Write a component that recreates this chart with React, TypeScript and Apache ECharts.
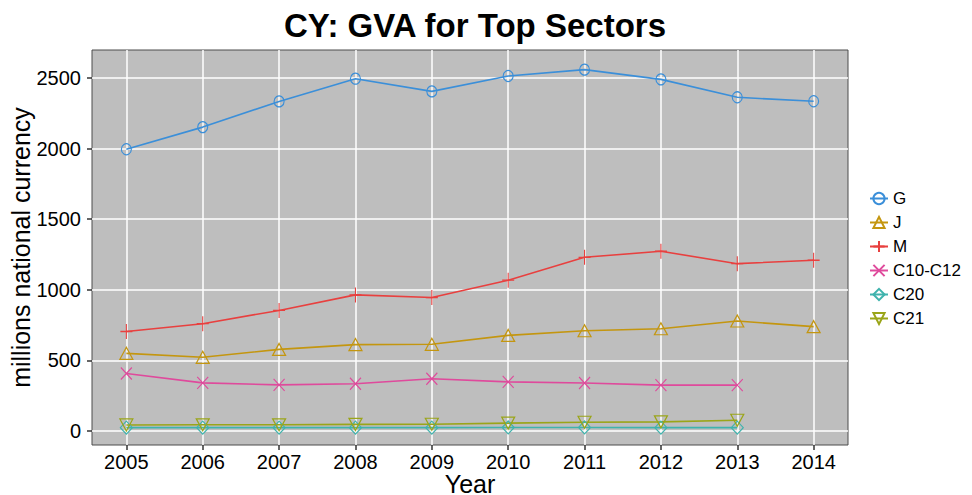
import React, { useEffect, useRef } from "react";
import * as echarts from "echarts";

const years = [2005, 2006, 2007, 2008, 2009, 2010, 2011, 2012, 2013, 2014];
const seriesNames = ["G", "J", "M", "C10-C12", "C20", "C21"];
const gValues = [1995, 2152, 2334, 2495, 2405, 2514, 2559, 2490, 2363, 2335];
const jValues = [550, 522, 578, 612, 614, 677, 710, 724, 779, 739];
const mValues = [705, 760, 854, 964, 945, 1068, 1230, 1273, 1185, 1209];
const c10Values = [407, 341, 327, 335, 370, 348, 340, 325, 325];
const c20Values = [24, 24, 24, 24, 24, 25, 25, 24, 24];
const c21Values = [43, 44, 44, 47, 48, 56, 62, 65, 76];
const yTicks = [0, 500, 1000, 1500, 2000, 2500];

const colors = ["#3b8fd9", "#c4960f", "#e8403f", "#df4a9c", "#3fb3ad", "#9aa518"];
const symbols = [
  "circle",
  "triangle",
  "path://M0,-1L0,1M-1,0L1,0",
  "path://M-1,-1L1,1M-1,1L1,-1",
  "diamond",
  "path://M-1,-1L1,-1L0,1Z",
];
const sizes: [number, number][] = [
  [10, 11],
  [13, 12],
  [12, 15],
  [11, 12],
  [12, 13],
  [13, 12],
];

export default function App() {
  const ref = useRef<HTMLDivElement>(null);
  useEffect(() => {
    if (!ref.current) return;
    const chart = echarts.init(ref.current, null, { renderer: "svg" });
    const allValues = [gValues, jValues, mValues, c10Values, c20Values, c21Values];
    const font = "'Liberation Sans', Arial, Helvetica, sans-serif";
    chart.setOption({
      animation: false,
      title: {
        text: "CY: GVA for Top Sectors",
        left: 470,
        top: 4,
        textAlign: "center",
        textStyle: { fontFamily: font, fontSize: 33, fontWeight: "bold", color: "#000" },
      },
      legend: {
        orient: "vertical",
        left: 864,
        top: 185,
        itemWidth: 18,
        itemHeight: 14,
        itemGap: 7,
        data: seriesNames,
        textStyle: { fontFamily: font, fontSize: 17, color: "#000" },
      },
      grid: {
        left: 92,
        top: 50,
        right: 124,
        bottom: 50,
        outerBoundsMode: "none",
        containLabel: false,
        show: true,
        backgroundColor: "#bebebe",
        borderColor: "#4d4d4d",
        borderWidth: 1,
      },
      xAxis: {
        type: "value",
        min: 2004.55,
        max: 2014.45,
        name: "Year",
        nameLocation: "middle",
        nameGap: 26,
        nameMoveOverlap: false,
        nameTextStyle: { fontFamily: font, fontSize: 25, color: "#000" },
        axisLine: { show: false, onZero: false },
        axisTick: { show: true, length: 5, customValues: years, lineStyle: { color: "#333", width: 1.5 } },
        axisLabel: {
          customValues: years,
          margin: 7,
          fontFamily: font,
          fontSize: 20,
          color: "#000",
          formatter: (v: number) => String(v),
        },
        splitLine: { show: true, lineStyle: { color: "#ffffff", width: 1.5 } },
      },
      yAxis: {
        type: "value",
        min: -99,
        max: 2698,
        name: "millions national currency",
        nameLocation: "middle",
        nameGap: 59,
        nameMoveOverlap: false,
        nameTextStyle: { fontFamily: font, fontSize: 25, color: "#000" },
        axisLine: { show: false, onZero: false },
        axisTick: { show: true, length: 5, customValues: yTicks, lineStyle: { color: "#333", width: 1.5 } },
        axisLabel: {
          customValues: yTicks,
          margin: 11,
          fontFamily: font,
          fontSize: 20,
          color: "#000",
          formatter: (v: number) => String(v),
        },
        splitLine: { show: true, lineStyle: { color: "#ffffff", width: 1.5 } },
      },
      series: seriesNames.map((name, i) => ({
        name,
        type: "line",
        data: allValues[i].map((v, j) => [years[j], v]),
        symbol: symbols[i],
        symbolSize: sizes[i],
        showSymbol: true,
        lineStyle: { color: colors[i], width: 1.6 },
        itemStyle: { color: "rgba(0,0,0,0)", borderColor: colors[i], borderWidth: 1.2 },
        color: colors[i],
      })),
    });
    return () => chart.dispose();
  }, []);
  return <div ref={ref} style={{ width: 972, height: 495, position: "absolute", left: 0, top: 0 }} />;
}
